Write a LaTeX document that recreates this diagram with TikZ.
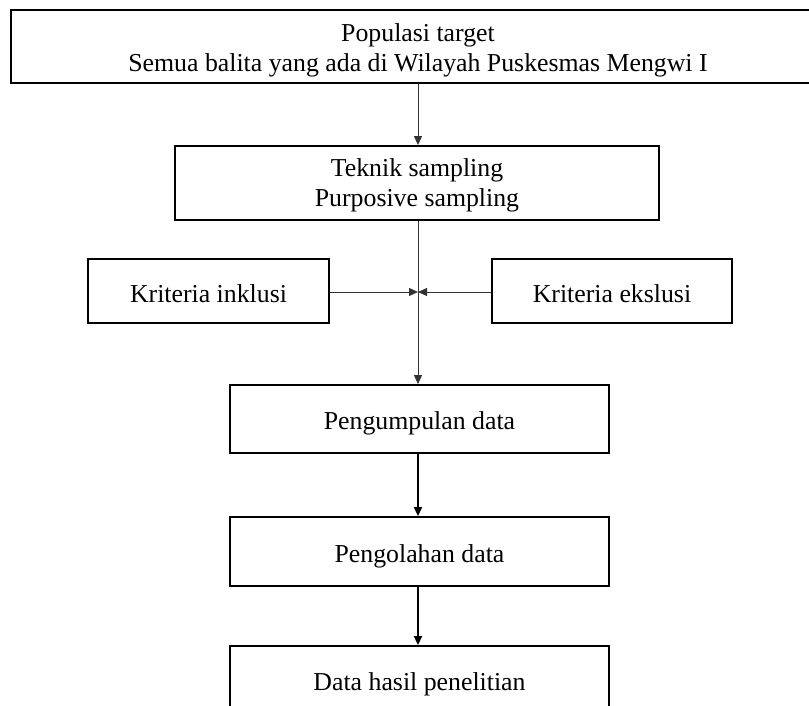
\documentclass[tikz,border=0pt]{standalone}
\usepackage{fontspec}
\setmainfont{Liberation Serif}
\usetikzlibrary{arrows.meta}
\begin{document}
\begin{tikzpicture}[x=1pt,y=-1pt,
  box/.style={draw=black, line width=1.8pt, inner sep=0pt, fill=white},
  txt/.style={anchor=base, inner sep=0pt, font=\fontsize{25.8}{30}\selectfont},
  thinarrow/.style={draw=black!80, line width=1pt, -{Triangle[length=9pt,width=8pt]}},
  thickarrow/.style={draw=black, line width=1.7pt, -{Triangle[length=9pt,width=8pt]}}]
\clip (0,0) rectangle (809,706);
\fill[white] (0,0) rectangle (809,706);
% boxes
\node[box, minimum width=814pt, minimum height=73pt] (pop) at (418,46.5) {};
\node[box, minimum width=484pt, minimum height=74pt] (tek) at (417,183) {};
\node[box, minimum width=241pt, minimum height=64pt] (inkl) at (208.5,291) {};
\node[box, minimum width=240pt, minimum height=64pt] (eks) at (612,291) {};
\node[box, minimum width=379pt, minimum height=68pt] (peng) at (419.5,419) {};
\node[box, minimum width=379pt, minimum height=69pt] (olah) at (419.5,551.5) {};
\node[box, minimum width=379pt, minimum height=100pt] (data) at (419.5,696) {};
% texts
\node[txt] (t1) at (418,42) {Populasi target};
\node[txt] (t2) at (418,72) {Semua balita yang ada di Wilayah Puskesmas Mengwi I};
\node[txt] (t3) at (417,177) {Teknik sampling};
\node[txt] (t4) at (417,207) {Purposive sampling};
\node[txt] (t5) at (208.5,302) {Kriteria inklusi};
\node[txt] (t6) at (612,302) {Kriteria ekslusi};
\node[txt] (t7) at (419.5,429) {Pengumpulan data};
\node[txt] (t8) at (419.5,562) {Pengolahan data};
\node[txt] (t9) at (419.5,690) {Data hasil penelitian};
% connectors
\coordinate (j) at (418,292);
\draw[thinarrow] (pop.south) -- (pop.south |- tek.north);
\draw[thinarrow] (tek.south -| j) -- (j |- peng.north);
\draw[thinarrow] (inkl.east |- j) -- (j);
\draw[thinarrow] (eks.west |- j) -- (j);
\draw[thickarrow] (peng.south -| j) -- (j |- olah.north);
\draw[thickarrow] (olah.south -| j) -- (j |- data.north);
\end{tikzpicture}
\end{document}
